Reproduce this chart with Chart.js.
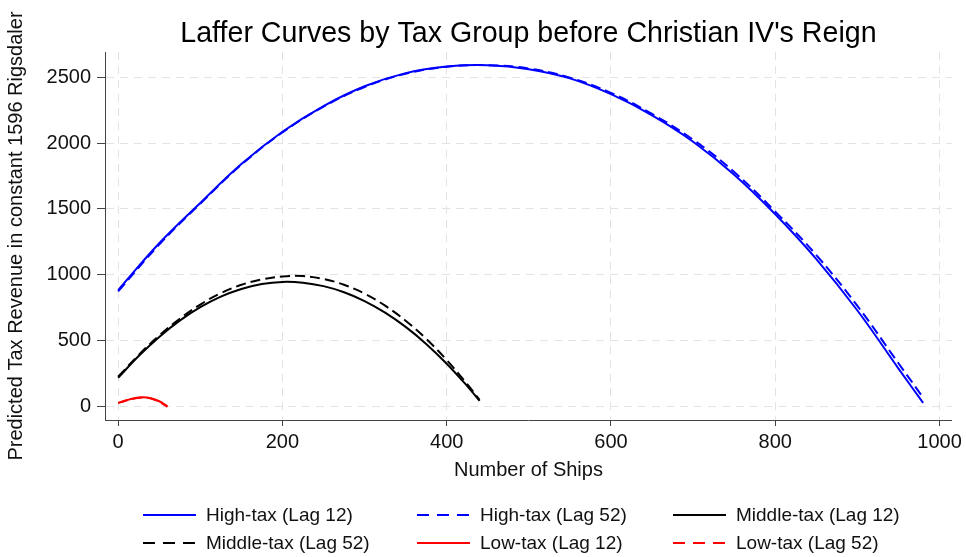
<!DOCTYPE html>
<html>
<head>
<meta charset="utf-8">
<script src="https://cdn.jsdelivr.net/npm/chart.js@4.4.0/dist/chart.umd.min.js"></script>
<style>
  html, body { margin: 0; padding: 0; background: #fff; }
  #wrap { position: relative; width: 966px; height: 557px; }
  #legend {
    position: absolute; left: 143px; top: 501px;
    display: grid; grid-template-columns: 274px 256px 250px; grid-auto-rows: 28px;
    font: 19px "Liberation Sans", Arial, sans-serif; color: #111;
  }
  .item { display: flex; align-items: center; white-space: nowrap; }
  .swatch { width: 53px; height: 2px; margin-right: 10px; }
</style>
</head>
<body>
<div id="wrap">
  <canvas id="chart" width="966" height="557"></canvas>
  <div id="legend"></div>
</div>
<script>
const chartTitle = "Laffer Curves by Tax Group before Christian IV's Reign";

const highShips = [0, 50, 100, 150, 200, 250, 300, 350, 400, 450, 500, 550, 600, 650, 700, 750, 800, 850, 900, 950, 980];
const highLag12 = [885, 1240, 1545, 1840, 2085, 2280, 2430, 2530, 2580, 2590, 2560, 2490, 2370, 2210, 2010, 1760, 1460, 1120, 730, 290, 30];
const highLag52 = [875, 1230, 1540, 1835, 2080, 2275, 2425, 2525, 2578, 2590, 2565, 2495, 2380, 2220, 2025, 1780, 1480, 1150, 765, 330, 70];

const midShips = [0, 25, 50, 75, 100, 125, 150, 175, 200, 225, 250, 275, 300, 325, 350, 375, 400, 425, 440];
const midLag12 = [220, 385, 530, 653, 755, 835, 893, 931, 947, 941, 915, 869, 802, 714, 606, 477, 327, 157, 45];
const midLag52 = [228, 393, 540, 668, 775, 862, 925, 966, 988, 991, 969, 925, 858, 767, 653, 516, 355, 172, 52];

const lowShips = [0, 10, 20, 30, 40, 50, 60];
const lowLag12 = [30, 50, 65, 72, 65, 42, 5];
const lowLag52 = [28, 48, 63, 70, 62, 38, 0];

const xTicks = [0, 200, 400, 600, 800, 1000];
const yTicks = [0, 500, 1000, 1500, 2000, 2500];

const font = '"Liberation Sans", Arial, sans-serif';

function pts(xs, ys) {
  return xs.map((x, i) => ({ x: x, y: ys[i] }));
}

function series(label, xs, ys, color, dashed) {
  return {
    label: label,
    data: pts(xs, ys),
    borderColor: color,
    backgroundColor: color,
    borderWidth: 2,
    borderDash: dashed ? [10, 5] : [],
    pointRadius: 0,
    tension: 0.4,
    fill: false,
    order: dashed ? 0 : 1
  };
}

const datasets = [
  series('High-tax (Lag 12)', highShips, highLag12, '#0000ff', false),
  series('High-tax (Lag 52)', highShips, highLag52, '#0000ff', true),
  series('Middle-tax (Lag 12)', midShips, midLag12, '#000000', false),
  series('Middle-tax (Lag 52)', midShips, midLag52, '#000000', true),
  series('Low-tax (Lag 12)', lowShips, lowLag12, '#ff0000', false),
  series('Low-tax (Lag 52)', lowShips, lowLag52, '#ff0000', true)
];

// title centred over the plot area, like the original
const titlePlugin = {
  id: 'plotTitle',
  afterDraw(chart) {
    const ctx = chart.ctx;
    const area = chart.chartArea;
    ctx.save();
    ctx.font = '28.6px ' + font;
    ctx.fillStyle = '#000';
    ctx.textAlign = 'center';
    ctx.textBaseline = 'middle';
    ctx.fillText(chartTitle, (area.left + area.right) / 2, 34);
    ctx.restore();
  }
};

const gridOpts = {
  color: '#e3e3e3',
  lineWidth: 1,
  tickColor: '#444',
  tickWidth: 1,
  tickBorderDash: []
};

let chart = new Chart(document.getElementById('chart').getContext('2d'), {
  type: 'line',
  data: { datasets: datasets },
  plugins: [titlePlugin],
  options: {
    responsive: false,
    animation: false,
    layout: { padding: { top: 52, right: 14, bottom: 73, left: 0 } },
    plugins: {
      legend: { display: false },
      tooltip: { enabled: false }
    },
    scales: {
      x: {
        type: 'linear',
        min: -16,
        max: 1015,
        afterBuildTicks: s => { s.ticks = xTicks.map(v => ({ value: v })); },
        afterFit: s => { s.height = 64; },
        grid: Object.assign({}, gridOpts, { tickLength: 6 }),
        border: { display: true, color: '#444', width: 1, dash: [8, 6] },
        ticks: { color: '#111', font: { size: 20, family: font }, padding: 4, maxRotation: 0, callback: v => String(v) },
        title: { display: true, text: 'Number of Ships', color: '#111', font: { size: 20, family: font }, padding: { top: 0, bottom: 2 } }
      },
      y: {
        type: 'linear',
        min: -100,
        max: 2690,
        afterBuildTicks: s => { s.ticks = yTicks.map(v => ({ value: v })); },
        afterFit: s => { s.width = 105; },
        grid: Object.assign({}, gridOpts, { tickLength: 8 }),
        border: { display: true, color: '#444', width: 1, dash: [8, 6] },
        ticks: { color: '#111', font: { size: 20, family: font }, padding: 6, callback: v => String(v) },
        title: { display: true, text: 'Predicted Tax Revenue in constant 1596 Rigsdaler', color: '#111', font: { size: 20, family: font }, padding: { top: 4, bottom: 0 } }
      }
    }
  }
});

// legend in three fixed columns below the plot
let legendDiv = document.getElementById('legend');
legendDiv.innerHTML = chart.data.datasets.map(ds => {
  let c = ds.borderColor;
  let bg = ds.borderDash.length
    ? 'repeating-linear-gradient(to right,' + c + ' 0 12px, transparent 12px 20px)'
    : c;
  return '<div class="item"><span class="swatch" style="background:' + bg + '"></span>' + ds.label + '</div>';
}).join('');
</script>
</body>
</html>
